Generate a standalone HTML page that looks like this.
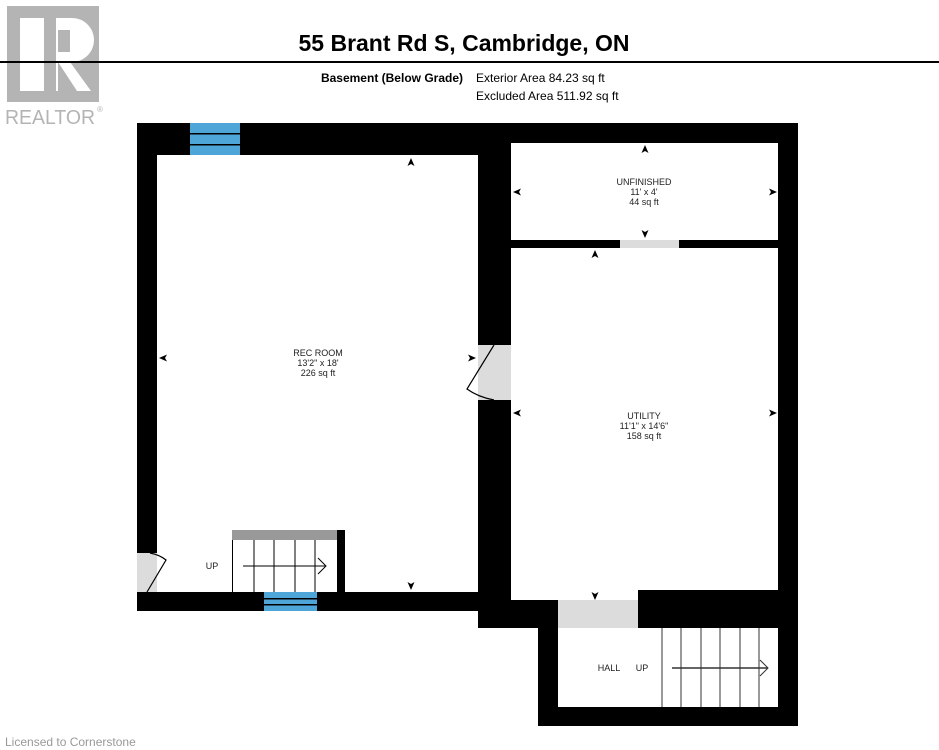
<!DOCTYPE html>
<html><head><meta charset="utf-8"><style>
html,body{margin:0;padding:0;background:#fff;}
svg{display:block;}
text{font-family:"Liberation Sans",Arial,sans-serif;}
</style></head><body>
<svg width="939" height="750" viewBox="0 0 939 750" xmlns="http://www.w3.org/2000/svg">
<!-- logo -->
<rect x="7" y="6" width="92" height="96" fill="#b4b4b4"/>
<rect x="20" y="18" width="24" height="73" fill="#fff"/>
<path d="M56 18 H72 A22 22 0 0 1 72 62 H70 L91 91 H77 L58 62 V91 H56 Z" fill="#fff"/>
<rect x="58" y="30" width="12" height="22" fill="#b4b4b4"/>
<text x="5" y="124" font-size="20" fill="#b4b4b4" textLength="90" lengthAdjust="spacingAndGlyphs">REALTOR</text>
<text x="97" y="112" font-size="8" fill="#b4b4b4">®</text>
<!-- header -->
<rect x="0" y="61" width="939" height="2" fill="#000"/>
<text x="464" y="51" font-size="23" font-weight="bold" text-anchor="middle">55 Brant Rd S, Cambridge, ON</text>
<text x="463" y="82" font-size="12" font-weight="bold" text-anchor="end">Basement (Below Grade)</text>
<text x="476" y="82" font-size="12">Exterior Area 84.23 sq ft</text>
<text x="476" y="100" font-size="12">Excluded Area 511.92 sq ft</text>
<!-- walls -->
<g fill="#000">
<rect x="137" y="123" width="661" height="32"/>
<rect x="137" y="123" width="20" height="488"/>
<rect x="137" y="592" width="341" height="19"/>
<rect x="478" y="123" width="33" height="505"/>
<rect x="778" y="123" width="20" height="603"/>
<rect x="511" y="240" width="267" height="8"/>
<rect x="478" y="590" width="320" height="38"/>
<rect x="538" y="600" width="20" height="126"/>
<rect x="538" y="707" width="260" height="19"/>
<rect x="337" y="530" width="8" height="62"/>
</g>
<!-- interiors -->
<g fill="#fff">
<rect x="511" y="143" width="267" height="97"/>
<rect x="511" y="248" width="267" height="342"/>
<rect x="511" y="590" width="47" height="10"/>
<rect x="558" y="628" width="220" height="79"/>
</g>
<!-- doors -->
<g fill="#dcdcdc">
<rect x="620" y="240" width="59" height="8"/>
<rect x="558" y="600" width="80" height="28"/>
<rect x="478" y="345" width="33" height="55"/>
<rect x="137" y="553" width="20" height="39"/>
</g>
<rect x="511" y="590" width="47" height="10" fill="#fff"/>
<rect x="558" y="590" width="80" height="10" fill="#fff"/>
<path d="M494 345 L467 389 Q478 397 494 400" fill="none" stroke="#000" stroke-width="1.2"/>
<path d="M150 553 Q160 555 166 560 L147 592" fill="none" stroke="#000" stroke-width="1.2"/>
<!-- windows -->
<g>
<rect x="190" y="123" width="50" height="32" fill="#4ea6d8"/>
<rect x="190" y="133" width="50" height="1.5" fill="#000"/>
<rect x="190" y="144" width="50" height="1.5" fill="#000"/>
<rect x="264" y="592" width="53" height="19" fill="#4ea6d8"/>
<rect x="264" y="598" width="53" height="1.5" fill="#000"/>
<rect x="264" y="604" width="53" height="1.5" fill="#000"/>
</g>
<!-- rec stairs -->
<rect x="232" y="530" width="105" height="10" fill="#999"/>
<g stroke="#000" stroke-width="1">
<line x1="232.5" y1="540" x2="232.5" y2="592"/>
<line x1="254" y1="540" x2="254" y2="592"/>
<line x1="274" y1="540" x2="274" y2="592"/>
<line x1="295" y1="540" x2="295" y2="592"/>
<line x1="315" y1="540" x2="315" y2="592"/>
<line x1="243" y1="566" x2="325" y2="566"/>
<polyline points="318,558 326,566 318,574" fill="none"/>
</g>
<!-- hall stairs -->
<g stroke="#333" stroke-width="1">
<line x1="662" y1="628" x2="662" y2="707"/>
<line x1="681" y1="628" x2="681" y2="707"/>
<line x1="701" y1="628" x2="701" y2="707"/>
<line x1="720" y1="628" x2="720" y2="707"/>
<line x1="740" y1="628" x2="740" y2="707"/>
<line x1="759" y1="628" x2="759" y2="707"/>
<line x1="672" y1="668" x2="768" y2="668" stroke-width="1.5"/>
<polyline points="760,660 768,668 760,676" fill="none"/>
</g>
<!-- markers -->
<g fill="#000">
<path d="M411 158 l-3.5 8 l3.5 -2 l3.5 2z"/>
<path d="M411 590 l-3.5 -8 l3.5 2 l3.5 -2z"/>
<path d="M159 358 l8 -3.5 l-2 3.5 l2 3.5z"/>
<path d="M476 358 l-8 -3.5 l2 3.5 l-2 3.5z"/>
<path d="M645 145 l-3.5 8 l3.5 -2 l3.5 2z"/>
<path d="M645 238 l-3.5 -8 l3.5 2 l3.5 -2z"/>
<path d="M513 192 l8 -3.5 l-2 3.5 l2 3.5z"/>
<path d="M777 192 l-8 -3.5 l2 3.5 l-2 3.5z"/>
<path d="M595 250 l-3.5 8 l3.5 -2 l3.5 2z"/>
<path d="M595 600 l-3.5 -8 l3.5 2 l3.5 -2z"/>
<path d="M513 413 l8 -3.5 l-2 3.5 l2 3.5z"/>
<path d="M777 413 l-8 -3.5 l2 3.5 l-2 3.5z"/>
</g>
<!-- labels -->
<g font-size="9" text-anchor="middle" fill="#222">
<text x="318" y="356">REC ROOM</text>
<text x="318" y="366">13'2" x 18'</text>
<text x="318" y="376">226 sq ft</text>
<text x="644" y="185">UNFINISHED</text>
<text x="644" y="195">11' x 4'</text>
<text x="644" y="205">44 sq ft</text>
<text x="644" y="419">UTILITY</text>
<text x="644" y="429">11'1" x 14'6"</text>
<text x="644" y="439">158 sq ft</text>
<text x="212" y="569">UP</text>
<text x="609" y="671">HALL</text>
<text x="642" y="671">UP</text>
</g>
<text x="5" y="746" font-size="12" fill="#999">Licensed to Cornerstone</text>
</svg>
</body></html>
